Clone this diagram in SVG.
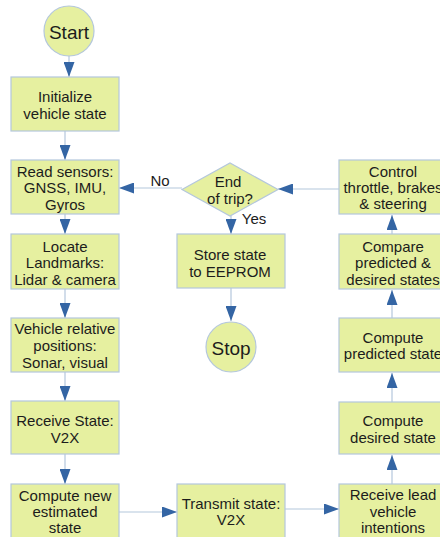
<svg xmlns="http://www.w3.org/2000/svg" width="440" height="537" viewBox="0 0 440 537">
<defs>
<style>
.n{fill:#e6f0a0;stroke:#b4c7dc;stroke-width:1.2}
.t{font-family:"Liberation Sans",Arial,sans-serif;font-size:15px;fill:#1c1c1c;text-anchor:middle;dominant-baseline:central}
.big{font-size:19px}
.c{stroke:#b4c7dc;stroke-width:1.2;fill:none;marker-end:url(#ah)}
</style>
<marker id="ah" markerUnits="userSpaceOnUse" markerWidth="15" markerHeight="11" refX="15" refY="5.5" orient="auto">
<path d="M0,0 L15,5.5 L0,11 Z" fill="#3465a4"/>
</marker>
</defs>
<rect width="440" height="537" fill="#ffffff"/>
<g id="connectors">
<line class="c" x1="69" y1="56" x2="69" y2="77"/>
<line class="c" x1="65" y1="131" x2="65" y2="160"/>
<line class="c" x1="65" y1="214" x2="65" y2="234"/>
<line class="c" x1="65" y1="289" x2="65" y2="318"/>
<line class="c" x1="65" y1="372" x2="65" y2="401"/>
<line class="c" x1="65" y1="454" x2="65" y2="484"/>
<line class="c" x1="119" y1="512" x2="177" y2="512"/>
<line class="c" x1="285" y1="509" x2="339" y2="509"/>
<line class="c" x1="392" y1="484" x2="392" y2="455"/>
<line class="c" x1="392" y1="402" x2="392" y2="373"/>
<line class="c" x1="392" y1="318" x2="392" y2="290"/>
<line class="c" x1="392" y1="234" x2="392" y2="215"/>
<line class="c" x1="339" y1="189" x2="278" y2="189"/>
<line class="c" x1="182" y1="188" x2="119" y2="188"/>
<line class="c" x1="231" y1="216" x2="231" y2="234"/>
<line class="c" x1="231" y1="288" x2="231" y2="321"/>
<text class="t" x="160" y="180">No</text>
<text class="t" x="254" y="218">Yes</text>
</g>
<g id="start">
<circle class="n" cx="69" cy="31" r="25"/>
<text class="t big" x="69" y="32">Start</text>
</g>
<g id="init">
<rect class="n" x="11" y="77" width="108" height="54"/>
<text class="t" x="65" y="96">Initialize</text>
<text class="t" x="65" y="113">vehicle state</text>
</g>
<g id="read">
<rect class="n" x="11" y="160" width="108" height="54"/>
<text class="t" x="65" y="171">Read sensors:</text>
<text class="t" x="65" y="187.5">GNSS, IMU,</text>
<text class="t" x="65" y="204">Gyros</text>
</g>
<g id="locate">
<rect class="n" x="11" y="234" width="108" height="55"/>
<text class="t" x="65" y="246">Locate</text>
<text class="t" x="65" y="262.5">Landmarks:</text>
<text class="t" x="65" y="279">Lidar &amp; camera</text>
</g>
<g id="relative">
<rect class="n" x="11" y="318" width="108" height="54"/>
<text class="t" x="65" y="328.5">Vehicle relative</text>
<text class="t" x="65" y="345.5">positions:</text>
<text class="t" x="65" y="362.5">Sonar, visual</text>
</g>
<g id="receive">
<rect class="n" x="11" y="401" width="108" height="53"/>
<text class="t" x="65" y="420">Receive State:</text>
<text class="t" x="65" y="437">V2X</text>
</g>
<g id="computenew">
<rect class="n" x="11" y="484" width="108" height="56"/>
<text class="t" x="65" y="495">Compute new</text>
<text class="t" x="65" y="511">estimated</text>
<text class="t" x="65" y="527">state</text>
</g>
<g id="transmit">
<rect class="n" x="177" y="484" width="108" height="56"/>
<text class="t" x="231" y="503">Transmit state:</text>
<text class="t" x="231" y="519">V2X</text>
</g>
<g id="receivelead">
<rect class="n" x="339" y="484" width="108" height="56"/>
<text class="t" x="393" y="494.5">Receive lead</text>
<text class="t" x="393" y="511">vehicle</text>
<text class="t" x="393" y="527">intentions</text>
</g>
<g id="desired">
<rect class="n" x="339" y="402" width="108" height="52"/>
<text class="t" x="393" y="420">Compute</text>
<text class="t" x="393" y="437">desired state</text>
</g>
<g id="predicted">
<rect class="n" x="339" y="318" width="108" height="54"/>
<text class="t" x="393" y="337">Compute</text>
<text class="t" x="393" y="353.5">predicted state</text>
</g>
<g id="compare">
<rect class="n" x="339" y="234" width="108" height="55"/>
<text class="t" x="393" y="246">Compare</text>
<text class="t" x="393" y="262.5">predicted &amp;</text>
<text class="t" x="393" y="279">desired states</text>
</g>
<g id="control">
<rect class="n" x="339" y="160" width="108" height="54"/>
<text class="t" x="393" y="171">Control</text>
<text class="t" x="393" y="187">throttle, brakes</text>
<text class="t" x="393" y="203.5">&amp; steering</text>
</g>
<g id="endtrip">
<polygon class="n" points="182,189.5 230,163 278,189.5 230,216"/>
<text class="t" x="228" y="181">End</text>
<text class="t" x="230" y="198.5">of trip?</text>
</g>
<g id="store">
<rect class="n" x="177" y="234" width="108" height="54"/>
<text class="t" x="230" y="254">Store state</text>
<text class="t" x="230" y="271">to EEPROM</text>
</g>
<g id="stop">
<circle class="n" cx="231" cy="347" r="25"/>
<text class="t big" x="231" y="348">Stop</text>
</g>
</svg>
